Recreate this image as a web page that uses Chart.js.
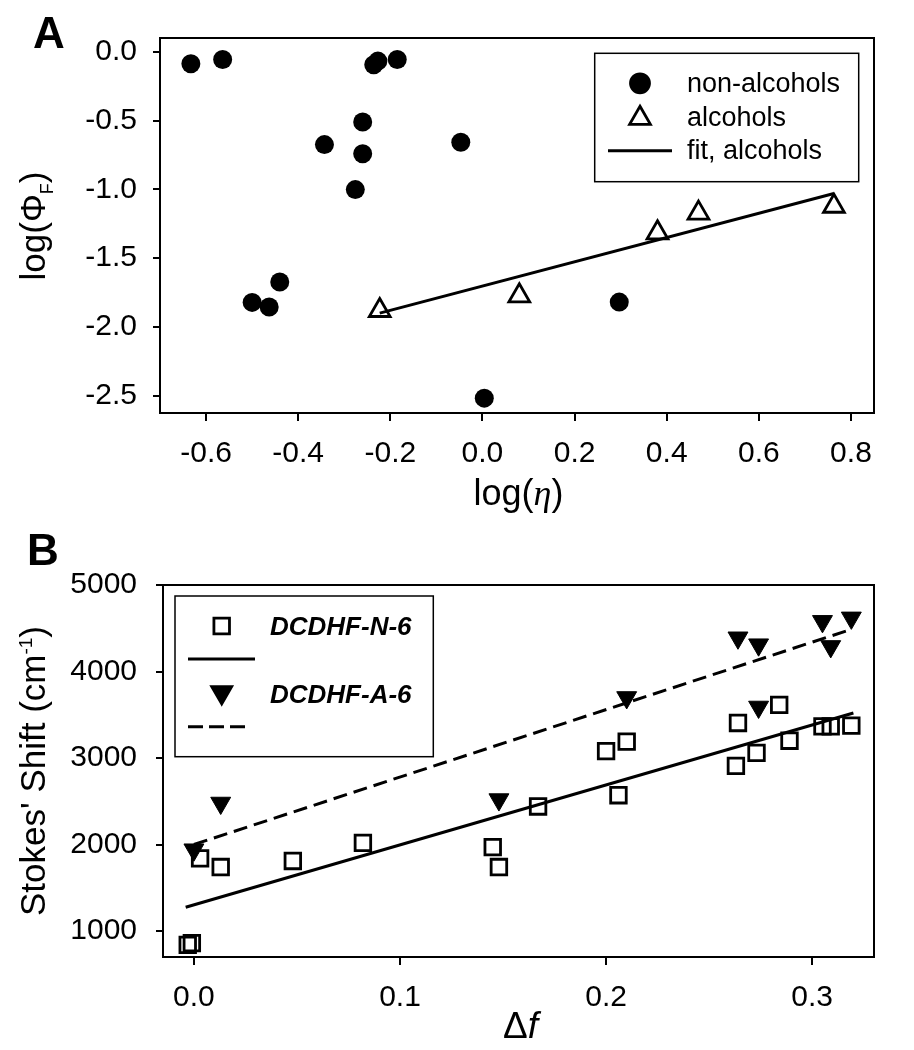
<!DOCTYPE html>
<html>
<head>
<meta charset="utf-8">
<script src="https://cdn.jsdelivr.net/npm/chart.js@4.4.1/dist/chart.umd.min.js"></script>
<style>
html, body { margin: 0; padding: 0; background: #fff; }
#chartA { position: absolute; left: 0; top: 0; }
#chartB { position: absolute; left: 0; top: 525px; }
</style>
</head>
<body>
<canvas id="chartA" width="914" height="525"></canvas>
<canvas id="chartB" width="914" height="525"></canvas>
<script>
// ---- panel A : log(phi_F) vs log(eta) ----
var nonAlcX = [-0.633, -0.564, -0.236, -0.227, -0.185, -0.260, -0.343, -0.260, -0.276, -0.047, -0.440, -0.500, -0.463, 0.297, 0.004];
var nonAlcY = [-0.087, -0.056, -0.095, -0.068, -0.056, -0.510, -0.675, -0.742, -1.002, -0.658, -1.674, -1.822, -1.856, -1.820, -2.518];
var alcX = [-0.223, 0.080, 0.380, 0.469, 0.763];
var alcY = [-1.881, -1.774, -1.316, -1.173, -1.123];
var fitAlcX = [-0.223, 0.763];
var fitAlcY = [-1.90, -1.03];
var xTicksA = [-0.6, -0.4, -0.2, 0.0, 0.2, 0.4, 0.6, 0.8];
var yTicksA = [-2.5, -2.0, -1.5, -1.0, -0.5, 0.0];

// ---- panel B : Stokes' shift vs delta f ----
var n6X = [-0.003, -0.001, 0.003, 0.013, 0.048, 0.082, 0.145, 0.148, 0.167, 0.206, 0.200, 0.210, 0.264, 0.263, 0.273, 0.284, 0.289, 0.305, 0.309, 0.319];
var n6Y = [840, 860, 1840, 1740, 1810, 2020, 1970, 1740, 2440, 2570, 3080, 3190, 3405, 2910, 3060, 3615, 3200, 3365, 3365, 3375];
var a6X = [0.000, 0.013, 0.148, 0.210, 0.264, 0.274, 0.274, 0.305, 0.319, 0.309];
var a6Y = [1940, 2480, 2520, 3700, 4390, 4310, 3590, 4580, 4620, 4290];
var fitN6X = [-0.004, 0.320];
var fitN6Y = [1275, 3520];
var fitA6X = [0.000, 0.318];
var fitA6Y = [2000, 4480];
var xTicksB = [0.0, 0.1, 0.2, 0.3];
var yTicksB = [1000, 2000, 3000, 4000, 5000];

var FONT = "'Liberation Sans', Arial, sans-serif";
var SERIF = "'Liberation Serif', 'Times New Roman', serif";
Chart.defaults.font.family = FONT;
Chart.defaults.color = '#000';

function pts(xs, ys) {
    return xs.map(function (x, i) { return { x: x, y: ys[i] }; });
}

// axis with fixed ticks and fixed thickness so the plot box lands where it should
function axis(min, max, ticks, tickLen, pad, size, isX, fmt) {
    return {
        type: 'linear', min: min, max: max,
        afterBuildTicks: function (s) { s.ticks = ticks.map(function (v) { return { value: v }; }); },
        afterFit: function (s) { if (isX) s.height = size; else s.width = size; },
        grid: { drawOnChartArea: false, drawTicks: true, tickLength: tickLen, color: '#000', lineWidth: 2 },
        border: { display: true, color: '#000', width: 2 },
        ticks: { color: '#000', font: { size: 30 }, padding: pad, autoSkip: false, maxRotation: 0, callback: fmt }
    };
}

function richText(ctx, parts, x, y, rot) {
    ctx.save();
    ctx.translate(x, y);
    if (rot) ctx.rotate(rot);
    ctx.textBaseline = 'alphabetic';
    ctx.textAlign = 'left';
    ctx.fillStyle = '#000';
    var total = 0;
    parts.forEach(function (p) { ctx.font = p.font; total += ctx.measureText(p.text).width; });
    var cx = -total / 2;
    parts.forEach(function (p) {
        ctx.font = p.font;
        ctx.fillText(p.text, cx, p.dy || 0);
        cx += ctx.measureText(p.text).width;
    });
    ctx.restore();
}

function marker(ctx, style, x, y, r, fill, rot) {
    ctx.save();
    ctx.beginPath();
    if (style === 'circle') {
        ctx.arc(x, y, r, 0, Math.PI * 2);
    } else if (style === 'triangle') {
        var a = rot ? Math.PI : 0;
        for (var i = 0; i < 3; i++) {
            var px = x + Math.sin(a) * r, py = y - Math.cos(a) * r;
            if (i === 0) ctx.moveTo(px, py); else ctx.lineTo(px, py);
            a += Math.PI * 2 / 3;
        }
        ctx.closePath();
    } else {
        var h = Math.SQRT1_2 * r;
        ctx.rect(x - h, y - h, 2 * h, 2 * h);
    }
    ctx.lineWidth = 2.8;
    ctx.strokeStyle = '#000';
    if (fill) { ctx.fillStyle = '#000'; ctx.fill(); }
    ctx.stroke();
    ctx.restore();
}

function frame(ctx, a) {
    ctx.save();
    ctx.strokeStyle = '#000';
    ctx.lineWidth = 2;
    ctx.beginPath();
    ctx.moveTo(a.left, a.top);
    ctx.lineTo(a.right, a.top);
    ctx.lineTo(a.right, a.bottom);
    ctx.stroke();
    ctx.restore();
}

function seg(ctx, x1, x2, y, dash) {
    ctx.save();
    ctx.strokeStyle = '#000';
    ctx.lineWidth = 3;
    ctx.setLineDash(dash || []);
    ctx.beginPath();
    ctx.moveTo(x1, y);
    ctx.lineTo(x2, y);
    ctx.stroke();
    ctx.restore();
}

var extrasA = {
    id: 'extrasA',
    afterDraw: function (chart) {
        var ctx = chart.ctx;
        frame(ctx, chart.chartArea);
        ctx.save();
        ctx.fillStyle = '#000';
        ctx.font = 'bold 44px ' + FONT;
        ctx.fillText('A', 33, 48);
        ctx.restore();
        richText(ctx, [
            { text: 'log(\u03A6', font: '35px ' + FONT },
            { text: 'F', font: '18px ' + FONT, dy: 8 },
            { text: ')', font: '35px ' + FONT }
        ], 45, 226, -Math.PI / 2);
        richText(ctx, [
            { text: 'log(', font: '36px ' + FONT },
            { text: '\u03B7', font: 'italic 36px ' + SERIF },
            { text: ')', font: '36px ' + FONT }
        ], 518.5, 505);
        // legend
        ctx.save();
        ctx.strokeStyle = '#000';
        ctx.lineWidth = 1.5;
        ctx.strokeRect(594.7, 53.3, 264, 128.4);
        ctx.restore();
        marker(ctx, 'circle', 640, 83.3, 9.5, true);
        marker(ctx, 'triangle', 640, 118.3, 12, false);
        seg(ctx, 608, 672, 150.7);
        ctx.save();
        ctx.fillStyle = '#000';
        ctx.font = '27px ' + FONT;
        ctx.fillText('non-alcohols', 687, 92.3);
        ctx.fillText('alcohols', 687, 125.7);
        ctx.fillText('fit, alcohols', 687, 159.3);
        ctx.restore();
    }
};

var extrasB = {
    id: 'extrasB',
    afterDraw: function (chart) {
        var ctx = chart.ctx;
        frame(ctx, chart.chartArea);
        ctx.save();
        ctx.fillStyle = '#000';
        ctx.font = 'bold 44px ' + FONT;
        ctx.fillText('B', 27, 40);
        ctx.restore();
        richText(ctx, [
            { text: "Stokes' Shift (cm", font: '35px ' + FONT },
            { text: '-1', font: '19px ' + FONT, dy: -13 },
            { text: ')', font: '35px ' + FONT }
        ], 45, 246, -Math.PI / 2);
        richText(ctx, [
            { text: '\u0394', font: '37px ' + FONT },
            { text: 'f', font: 'italic 37px ' + FONT }
        ], 520.5, 513);
        // legend
        ctx.save();
        ctx.strokeStyle = '#000';
        ctx.lineWidth = 1.5;
        ctx.strokeRect(175, 71, 258.3, 160.7);
        ctx.restore();
        marker(ctx, 'rect', 221.7, 101, 11, false);
        seg(ctx, 188, 255, 134);
        marker(ctx, 'triangle', 221.7, 167.4, 11.5, true, true);
        seg(ctx, 188, 245, 201.7, [15, 6]);
        ctx.save();
        ctx.fillStyle = '#000';
        ctx.font = 'bold italic 26px ' + FONT;
        ctx.fillText('DCDHF-N-6', 270, 110);
        ctx.fillText('DCDHF-A-6', 270, 178.3);
        ctx.restore();
    }
};

var fmt1 = function (v) { return Number(v).toFixed(1); };
var fmt0 = function (v) { return String(v); };

new Chart(document.getElementById('chartA').getContext('2d'), {
    type: 'scatter',
    data: {
        datasets: [{
            label: 'non-alcohols',
            data: pts(nonAlcX, nonAlcY),
            pointStyle: 'circle', pointRadius: 9.5,
            backgroundColor: '#000', borderColor: '#000', borderWidth: 0
        }, {
            label: 'alcohols',
            data: pts(alcX, alcY),
            pointStyle: 'triangle', pointRadius: 12,
            backgroundColor: 'rgba(0,0,0,0)', borderColor: '#000', borderWidth: 2.8
        }, {
            label: 'fit, alcohols',
            data: pts(fitAlcX, fitAlcY),
            showLine: true, pointRadius: 0,
            borderColor: '#000', borderWidth: 3
        }]
    },
    options: {
        responsive: false,
        animation: false,
        events: [],
        layout: { padding: { top: 38, right: 40, left: 0, bottom: 0 } },
        plugins: { legend: { display: false }, tooltip: { enabled: false } },
        scales: {
            x: axis(-0.7, 0.85, xTicksA, 8, 15, 112, true, fmt1),
            y: axis(-2.626, 0.1, yTicksA, 7, 16, 160, false, fmt1)
        }
    },
    plugins: [extrasA]
});

new Chart(document.getElementById('chartB').getContext('2d'), {
    type: 'scatter',
    data: {
        datasets: [{
            label: 'DCDHF-N-6',
            data: pts(n6X, n6Y),
            pointStyle: 'rect', pointRadius: 11,
            backgroundColor: 'rgba(0,0,0,0)', borderColor: '#000', borderWidth: 2.8
        }, {
            label: 'fit N-6',
            data: pts(fitN6X, fitN6Y),
            showLine: true, pointRadius: 0,
            borderColor: '#000', borderWidth: 3
        }, {
            label: 'DCDHF-A-6',
            data: pts(a6X, a6Y),
            pointStyle: 'triangle', rotation: 180, pointRadius: 11.5,
            backgroundColor: '#000', borderColor: '#000', borderWidth: 1
        }, {
            label: 'fit A-6',
            data: pts(fitA6X, fitA6Y),
            showLine: true, pointRadius: 0,
            borderColor: '#000', borderWidth: 3, borderDash: [14, 7]
        }]
    },
    options: {
        responsive: false,
        animation: false,
        events: [],
        layout: { padding: { top: 60, right: 40, left: 0, bottom: 0 } },
        plugins: { legend: { display: false }, tooltip: { enabled: false } },
        scales: {
            x: axis(-0.015, 0.33, xTicksB, 8, 15, 93, true, fmt1),
            y: axis(700, 5000, yTicksB, 7, 19, 163, false, fmt0)
        }
    },
    plugins: [extrasB]
});
</script>
</body>
</html>
